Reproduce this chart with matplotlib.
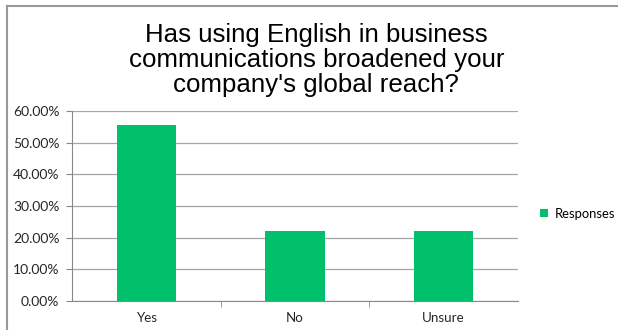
import matplotlib
matplotlib.use("Agg")
import matplotlib.pyplot as plt
from matplotlib.lines import Line2D
from matplotlib.patches import Patch

categories = ["Yes", "No", "Unsure"]
responses = [55.56, 22.22, 22.22]
yticks = [0, 10, 20, 30, 40, 50, 60]

green = "#00c06b"
grid_gray = "#a6a6a6"
label_font = "Lato"

fig = plt.figure(figsize=(6.18, 3.30), dpi=100)
ax = fig.add_axes([0.1165, 0.088, 0.7215, 0.576])

x = range(len(categories))
ax.bar(x, responses, width=0.4, color=green, zorder=3)

ax.set_xlim(-0.5, len(categories) - 0.5)
ax.set_ylim(0, 60)
ax.set_yticks(yticks)
ax.set_yticklabels([f"{v:.2f}%" for v in yticks], fontsize=10,
                   family=label_font, color="#262626")
ax.set_xticks(list(x))
ax.set_xticklabels(categories, fontsize=9.6, family=label_font,
                   color="#262626")
ax.tick_params(axis="x", length=0, pad=8)
ax.tick_params(axis="y", length=4, color="#888888", pad=5)

# category boundary ticks on the x axis
ax.set_xticks([0.5, 1.5], minor=True)
ax.tick_params(axis="x", which="minor", length=4, color="#888888")

ax.yaxis.grid(True, color=grid_gray, linewidth=0.9, zorder=0)
for side in ["top", "right"]:
    ax.spines[side].set_visible(False)
ax.spines["left"].set_color("#888888")
ax.spines["bottom"].set_color("#888888")

fig.text(0.512, 0.818,
         "Has using English in business\ncommunications broadened your\ncompany's global reach?",
         ha="center", va="center", fontsize=18.6, family="Liberation Sans",
         linespacing=1.05)

handle = Patch(facecolor=green, edgecolor="none")
fig.legend([handle], ["Responses"], loc="center left",
           bbox_to_anchor=(0.855, 0.352), frameon=False,
           prop={"family": label_font, "size": 9.4},
           handlelength=0.6, handleheight=0.6, handletextpad=0.5)

# outer chart border (top and left edges visible)
fig.add_artist(Line2D([0.011, 1.0], [0.982, 0.982], transform=fig.transFigure,
                      color="#999999", linewidth=1.5))
fig.add_artist(Line2D([0.011, 0.011], [0.0, 0.982], transform=fig.transFigure,
                      color="#999999", linewidth=1.5))

fig.savefig("out.png", dpi=100)
